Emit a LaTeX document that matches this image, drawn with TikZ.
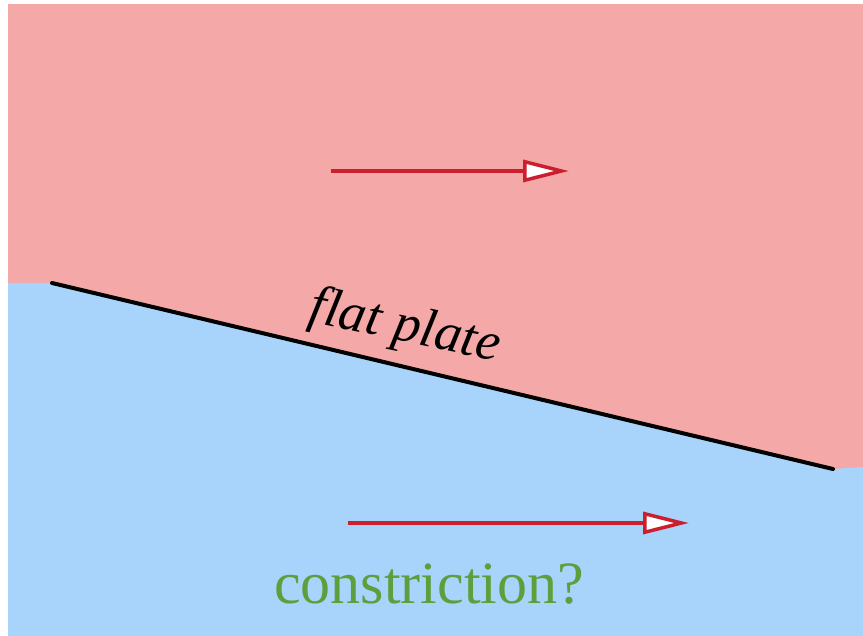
\documentclass[tikz,border=0pt]{standalone}
\usepackage{fontspec}
\setmainfont{Liberation Serif}
\usetikzlibrary{arrows.meta}
\definecolor{flowpink}{RGB}{244,169,168}
\definecolor{flowblue}{RGB}{168,212,252}
\definecolor{flowred}{RGB}{205,30,45}
\definecolor{flowgreen}{RGB}{92,160,62}

\begin{document}
\begin{tikzpicture}[x=1pt, y=-1pt,
    flow/.style={draw=flowred, line width=3.5pt,
      -{Triangle[length=46pt, width=22pt, fill=white]}},
    plate/.style={line width=4pt, line cap=round},
    lbl/.style={inner sep=0pt, anchor=base},
  ]
    \useasboundingbox[fill=white] (0,0) rectangle (863,636);
    % plate ends
    \coordinate (ps) at (52,283);
    \coordinate (pe) at (833,469);
    % the two streams
    \fill[flowpink] (8,4) rectangle (863,636);
    \fill[flowblue] (8,283) -- (ps) -- (pe) -- (863,467) -- (863,636) -- (8,636) -- cycle;
    \draw[plate] (ps) -- (pe);
    \node[lbl, rotate=-12, font=\fontsize{54}{64}\selectfont\itshape] (plt) at (402,341) {flat plate};
    % flow arrows
    \coordinate (a1) at (331,171);
    \coordinate (b1) at (569,171);
    \coordinate (a2) at (348,523);
    \coordinate (b2) at (689,523);
    \draw[flow] (a1) -- (b1);
    \draw[flow] (a2) -- (b2);
    \node[lbl, text=flowgreen, font=\fontsize{60}{72}\selectfont] (cst) at (429,603) {constriction?};
\end{tikzpicture}
\end{document}
